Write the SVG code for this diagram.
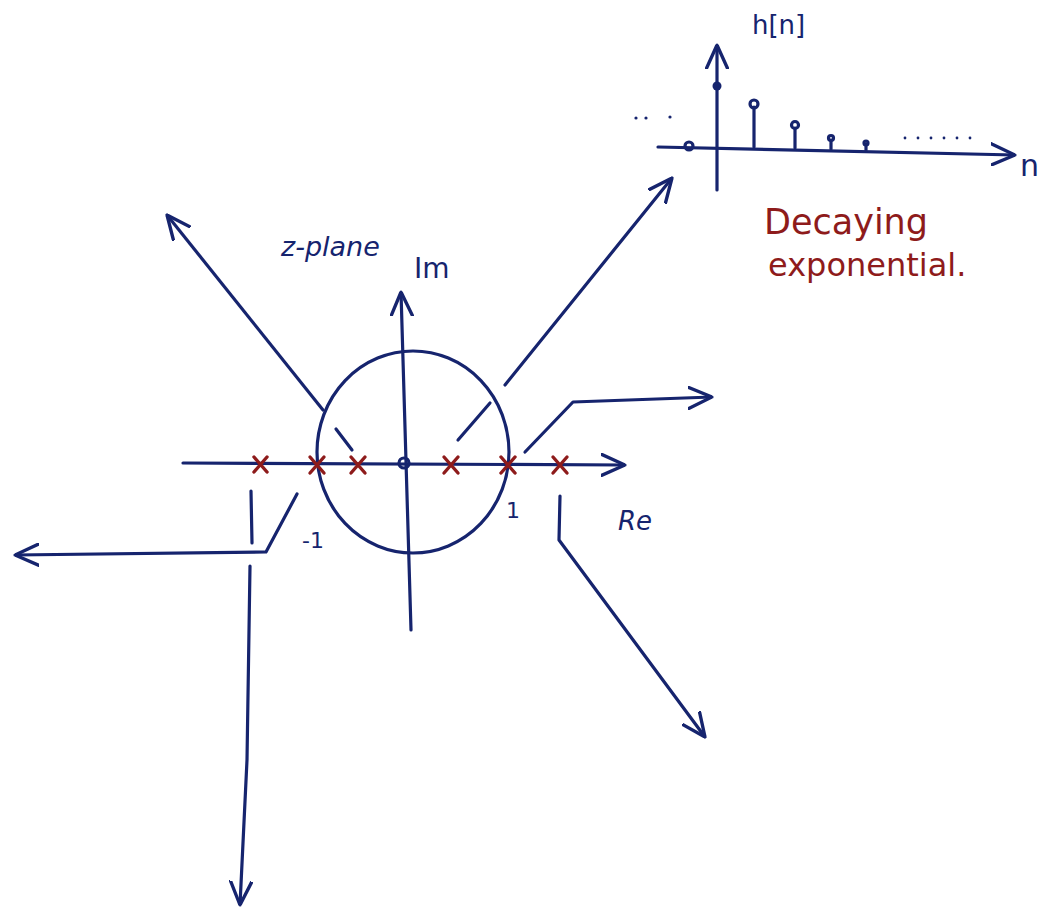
<svg xmlns="http://www.w3.org/2000/svg" width="1048" height="911" viewBox="0 0 1048 911">
<style>
.ink{fill:none;stroke:#16246e;stroke-width:3.2;stroke-linecap:round;stroke-linejoin:round}
.red{fill:none;stroke:#8e1b1b;stroke-width:3.4;stroke-linecap:round}
.bt{font-family:"DejaVu Sans","Liberation Sans",sans-serif;fill:#16246e}
.rt{font-family:"DejaVu Sans","Liberation Sans",sans-serif;fill:#8e1b1b}
</style>
<defs>
<marker id="ah" viewBox="0 0 10 10" refX="10" refY="5" markerWidth="24" markerHeight="24" markerUnits="userSpaceOnUse" orient="auto">
<path d="M0,0.5 L10,5 L0,9.5" fill="none" stroke="#16246e" stroke-width="1.4" stroke-linecap="round" stroke-linejoin="round"/>
</marker>
</defs>
<rect width="1048" height="911" fill="#ffffff"/>

<g id="z-plane-axes">
<path class="ink" d="M183,463 L625,465" marker-end="url(#ah)"/>
<path class="ink" d="M411,630 L401,292" marker-end="url(#ah)"/>
</g>

<g id="unit-circle">
<ellipse class="ink" cx="413" cy="452" rx="96" ry="101"/>
</g>

<g id="poles-zero">
<path class="red" d="M254,457 L267,472 M267,457 L254,472"/>
<path class="red" d="M310,457 L324,473 M324,457 L310,473"/>
<path class="red" d="M351,457 L365,473 M365,457 L351,473"/>
<path class="red" d="M444,457 L458,473 M458,457 L444,473"/>
<path class="red" d="M501,457 L515,473 M515,457 L501,473"/>
<path class="red" d="M553,457 L567,473 M567,457 L553,473"/>
<circle class="ink" cx="404" cy="463" r="5"/>
</g>

<g id="z-labels">
<text class="bt" x="281" y="256" font-size="27" font-style="italic">z-plane</text>
<text class="bt" x="414" y="278" font-size="28">Im</text>
<text class="bt" x="302" y="548" font-size="22">-1</text>
<text class="bt" x="506" y="518" font-size="22">1</text>
<text class="bt" x="618" y="530" font-size="26" font-style="italic">Re</text>
</g>

<g id="impulse-response">
<path class="ink" d="M717,190 L717,45" marker-end="url(#ah)"/>
<path class="ink" d="M658,147 L1015,155" marker-end="url(#ah)"/>
<circle cx="717" cy="86" r="4.5" fill="#16246e"/>
<path class="ink" d="M754,147 L754,107"/>
<circle class="ink" cx="754" cy="104" r="4"/>
<path class="ink" d="M795,148 L795,128"/>
<circle class="ink" cx="795" cy="125" r="3.5"/>
<path class="ink" d="M831,149 L831,140"/>
<circle class="ink" cx="831" cy="138" r="2.5"/>
<path class="ink" d="M866,150 L866,144"/>
<circle class="ink" cx="866" cy="143" r="2"/>
<circle class="ink" cx="689" cy="146" r="4"/>
<g fill="#16246e">
<circle cx="636" cy="118" r="1.6"/><circle cx="646" cy="118" r="1.6"/><circle cx="670" cy="117" r="1.6"/>
<circle cx="905" cy="138" r="1.4"/><circle cx="918" cy="138" r="1.4"/><circle cx="931" cy="138" r="1.4"/><circle cx="944" cy="138" r="1.4"/><circle cx="957" cy="138" r="1.4"/><circle cx="970" cy="138" r="1.4"/>
</g>
<text class="bt" x="752" y="34" font-size="26">h[n]</text>
<text class="bt" x="1020" y="176" font-size="30">n</text>
</g>

<g id="annotation">
<text class="rt" x="764" y="234" font-size="35">Decaying</text>
<text class="rt" x="768" y="276" font-size="32">exponential.</text>
</g>

<g id="connectors">
<path class="ink" d="M323,410 L167,215" marker-end="url(#ah)"/>
<path class="ink" d="M505,385 L672,178" marker-end="url(#ah)"/>
<path class="ink" d="M336,429 L352,450"/>
<path class="ink" d="M458,440 L490,403"/>
<path class="ink" d="M525,452 L573,402 L712,397" marker-end="url(#ah)"/>
<path class="ink" d="M560,496 L559,540 L705,737" marker-end="url(#ah)"/>
<path class="ink" d="M297,494 L266,552 L15,555" marker-end="url(#ah)"/>
<path class="ink" d="M251,491 L252,543"/>
<path class="ink" d="M250,566 L247,760 L240,905" marker-end="url(#ah)"/>
</g>
</svg>
